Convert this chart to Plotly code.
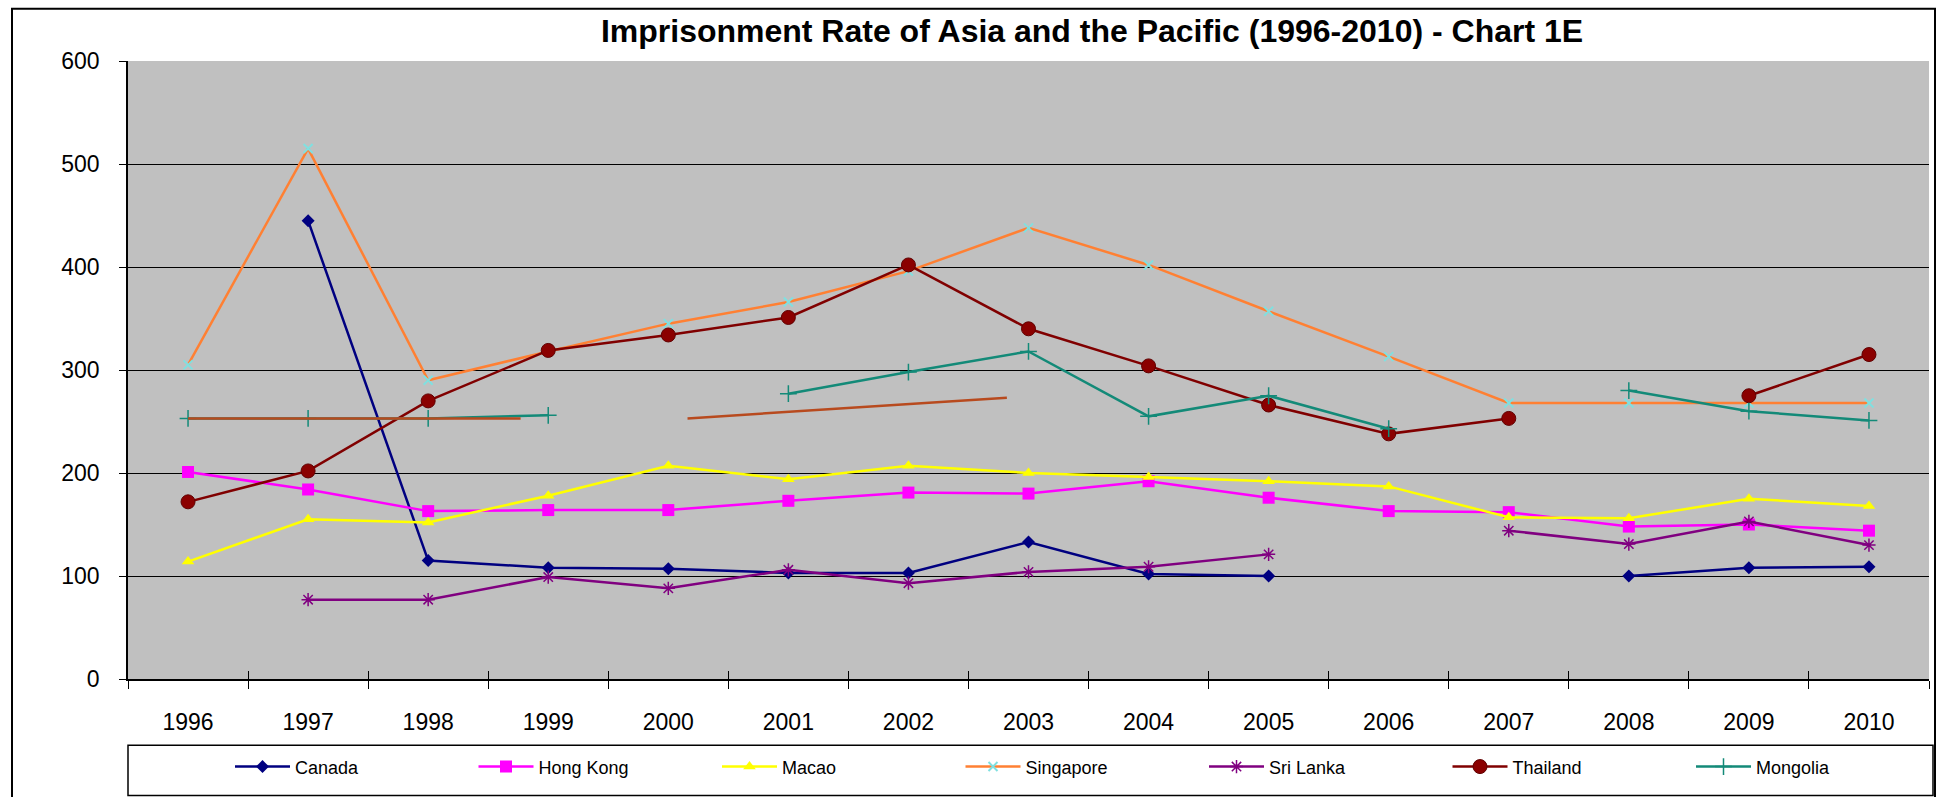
import plotly.graph_objects as go

# ---------------- data ----------------
years = [1996, 1997, 1998, 1999, 2000, 2001, 2002, 2003, 2004, 2005, 2006, 2007, 2008, 2009, 2010]
canada = [None, 445, 115, 108, 107, 103, 103, 133, 102, 100, None, None, 100, 108, 109]
hong_kong = [201, 184, 163, 164, 164, 173, 181, 180, 192, 176, 163, 162, 148, 150, 144]
macao = [114, 155, 152, 178, 207, 194, 207, 200, 196, 192, 187, 157, 156, 175, 168]
singapore = [305, 515, 290, 318, 345, 366, 396, 438, 402, 357, 313, 268, 268, 268, 268]
sri_lanka = [None, 77, 77, 99, 88, 106, 93, 104, 109, 121, None, 144, 131, 153, 130]
thailand = [172, 202, 270, 319, 334, 351, 402, 340, 304, 266, 238, 253, None, 275, 315]
mongolia = [253, 253, 253, 256, None, 277, 298, 318, 255, 275, 243, None, 280, 260, 251]
# unlabelled brown segments visible in the chart
extra_x = [1996.0, 1998.77, None, 2000.16, 2002.82]
extra_y = [253, 253, None, 253, 273]

FONT = "Arial, Liberation Sans, sans-serif"

series = [
    ("Canada", canada, "#000080", dict(symbol="diamond", size=10, color="#000080")),
    ("Hong Kong", hong_kong, "#FF00FF", dict(symbol="square", size=12, color="#FF00FF")),
    ("Macao", macao, "#FFFF00", dict(symbol="triangle-up", size=11, color="#FFFF00")),
    ("Singapore", singapore, "#FF8033", dict(symbol="x-thin-open", size=9, color="#80E0E0",
                                             line=dict(width=2, color="#80E0E0"))),
    ("Sri Lanka", sri_lanka, "#800080", dict(symbol="asterisk-open", size=11, color="#800080",
                                             line=dict(width=1.5, color="#800080"))),
    ("Thailand", thailand, "#800000", dict(symbol="circle", size=14, color="#8B0000",
                                           line=dict(width=1, color="#600000"))),
    ("Mongolia", mongolia, "#138A78", dict(symbol="cross-thin-open", size=12, color="#138A78",
                                           line=dict(width=1.5, color="#138A78"))),
]

W, H = 1942, 797
L, R, T, B = 128, 13, 61, 110
pw, ph = W - L - R, H - T - B


def px(xp):
    return (xp - L) / pw


def py(yp):
    return (H - B - yp) / ph


fig = go.Figure()
legend_layouts = {}
for i, (name, vals, col, mk) in enumerate(series):
    lname = "legend" if i == 0 else f"legend{i + 1}"
    fig.add_trace(go.Scatter(x=years, y=vals, name=name, mode="lines+markers",
                             line=dict(color=col, width=2.5), marker=mk,
                             connectgaps=False, legend=lname))
    legend_layouts[lname] = dict(
        orientation="h", x=px(230 + i * 243.5), xanchor="left",
        y=py(776), yanchor="middle",
        font=dict(size=18, family=FONT, color="black"),
        bgcolor="rgba(0,0,0,0)", borderwidth=0, itemwidth=55,
    )

# brown segments drawn on an overlaying axis that also carries the inner half of the cross ticks
fig.add_trace(go.Scatter(x=extra_x, y=extra_y, mode="lines", showlegend=False,
                         line=dict(color="#B84A1E", width=2.5), connectgaps=False,
                         xaxis="x2"))

boundaries = [y - 0.5 for y in years] + [2010.5]

fig.update_layout(
    width=W, height=H,
    margin=dict(l=L, r=R, t=T, b=B),
    paper_bgcolor="white",
    plot_bgcolor="#C0C0C0",
    font=dict(family=FONT, color="black"),
    title=dict(text="<b>Imprisonment Rate of Asia and the Pacific (1996-2010) - Chart 1E</b>",
               font=dict(size=32, family=FONT, color="black"),
               x=px(1092), xref="paper", xanchor="center",
               y=1 - 31 / H, yref="container", yanchor="middle"),
    showlegend=True,
    xaxis2=dict(overlaying="x", anchor="y", side="bottom", range=[1995.5, 2010.5],
                tickmode="array", tickvals=boundaries, ticks="inside", ticklen=8,
                tickcolor="black", tickwidth=1.2, showticklabels=False,
                showgrid=False, zeroline=False, showline=False),
    shapes=[
        dict(type="rect", xref="paper", yref="paper", x0=0, x1=px(1933), y0=py(754), y1=py(805),
             line=dict(color="black", width=1.5), fillcolor="rgba(0,0,0,0)", layer="above"),
        dict(type="rect", xref="paper", yref="paper", x0=px(12), x1=px(1935), y0=py(8), y1=py(810),
             line=dict(color="black", width=2), fillcolor="rgba(0,0,0,0)", layer="above"),
    ],
    **legend_layouts,
)

fig.update_layout(xaxis=dict(
    range=[1995.5, 2010.5], tickmode="array", tickvals=years, ticktext=[str(y) for y in years],
    ticks="", showgrid=False, zeroline=False,
    showline=True, linecolor="black", linewidth=1.5,
    tickfont=dict(size=23, family=FONT, color="black"),
    ticklabelstandoff=22,
    minor=dict(tickmode="array", tickvals=boundaries,
               ticks="outside", ticklen=8, tickcolor="black", tickwidth=1.2, showgrid=False),
))
fig.update_yaxes(
    range=[0, 600], dtick=100, tick0=0,
    showgrid=True, gridcolor="black", gridwidth=1,
    zeroline=False, showline=True, linecolor="black", linewidth=1.5,
    ticks="outside", ticklen=7, tickcolor="black",
    tickfont=dict(size=23, family=FONT, color="black"),
    ticklabelstandoff=15,
)

fig.write_html("out.html", config={"displayModeBar": False},
               post_script="document.body.style.margin='0';")
